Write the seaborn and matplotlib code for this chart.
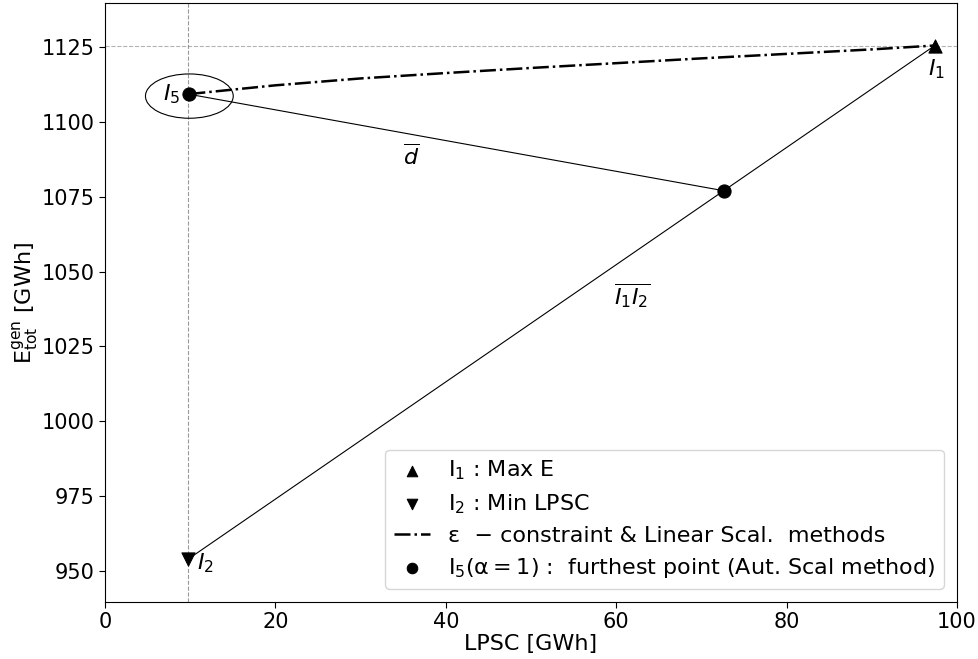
import matplotlib
matplotlib.use("Agg")
import matplotlib.pyplot as plt
import seaborn as sns
import pandas as pd
from matplotlib.patches import Ellipse

sns.set_style("white")
plt.rcParams['font.family'] = ['DejaVu Sans']
plt.rcParams['mathtext.fontset'] = 'dejavusans'
for k in ['text.color', 'axes.labelcolor', 'xtick.color', 'ytick.color']:
    plt.rcParams[k] = 'black'

# Data
i1_x, i1_y = [97.4], [1125.5]
i2_x, i2_y = [9.8], [954.0]
i5_x, i5_y = [9.9], [1109.2]
far_x, far_y = [72.6], [1077.0]
pareto_x = [9.9, 20, 30, 40, 50, 60, 70, 80, 90, 97.4]
pareto_y = [1109.3, 1112.2, 1114.5, 1116.3, 1118.0, 1119.6, 1121.2, 1122.7, 1124.2, 1125.5]

fig = plt.figure(figsize=(9.79, 6.59), dpi=100)
ax = fig.add_axes([105/979, 1-602/659, (957-105)/979, (602-3)/659])

# reference lines
ax.axvline(i2_x[0], color='gray', ls='--', lw=0.8, alpha=0.8, zorder=1)
ax.axhline(i1_y[0], color='gray', ls='--', lw=0.8, alpha=0.6, zorder=1)

# segments
ax.plot([i1_x[0], i2_x[0]], [i1_y[0], i2_y[0]], color='black', lw=0.8, zorder=2)
ax.plot([i5_x[0], far_x[0]], [i5_y[0], far_y[0]], color='black', lw=0.8, zorder=2)

sns.lineplot(x=pareto_x, y=pareto_y, ax=ax, color='black', lw=1.8, ls='-.',
             label='ε  \u2212 constraint & Linear Scal.  methods', zorder=3,
             sort=False)

sns.scatterplot(x=i1_x, y=i1_y, ax=ax, marker='^', s=90, color='black', edgecolor='black',
                label=r'$\mathrm{I_1}$ : Max E', zorder=4)
sns.scatterplot(x=i2_x, y=i2_y, ax=ax, marker='v', s=90, color='black', edgecolor='black',
                label=r'$\mathrm{I_2}$ : Min LPSC', zorder=4)
sns.scatterplot(x=i5_x + far_x, y=i5_y + far_y, ax=ax, marker='o', s=90, color='black',
                edgecolor='black',
                label=r'$\mathrm{I_5}(\mathrm{\alpha}=1)$ :  furthest point (Aut. Scal method)', zorder=4)

ax.add_patch(Ellipse((i5_x[0], i5_y[0] - 0.6), width=10.3, height=14.8, fill=False,
                     edgecolor='black', lw=0.8, zorder=3))

fs = 16
ax.text(8.8, 1109.2, r'$I_5$', fontsize=fs, ha='right', va='center')
ax.text(96.6, 1121.5, r'$I_1$', fontsize=fs, ha='left', va='top')
ax.text(10.8, 952.5, r'$I_2$', fontsize=fs, ha='left', va='center')
ax.text(35.9, 1088.5, r'$\overline{d}$', fontsize=fs, ha='center', va='center')
ax.text(61.9, 1042.0, r'$\overline{I_1 I_2}$', fontsize=fs, ha='center', va='center')

ax.set_xlim(0, 100)
ax.set_ylim(939.6, 1139.7)
ax.set_xticks([0, 20, 40, 60, 80, 100])
ax.set_yticks([950, 975, 1000, 1025, 1050, 1075, 1100, 1125])
ax.tick_params(labelsize=15, direction='out', length=4, width=0.8, left=True, bottom=True,
               colors='black')
for s in ax.spines.values():
    s.set_color('black')
    s.set_linewidth(0.8)

ax.set_xlabel('LPSC [GWh]', fontsize=16, labelpad=1)
ax.set_ylabel(r'$\mathrm{E_{tot}^{gen}}$ [GWh]', fontsize=16, labelpad=1)

h, l = ax.get_legend_handles_labels()
order = [1, 2, 0, 3]
ax.legend([h[i] for i in order], [l[i] for i in order], loc='lower right', fontsize=16,
          frameon=True, borderaxespad=0.6, handlelength=1.6, markerscale=0.8,
          labelspacing=0.45)

fig.savefig('out.png', dpi=100)
